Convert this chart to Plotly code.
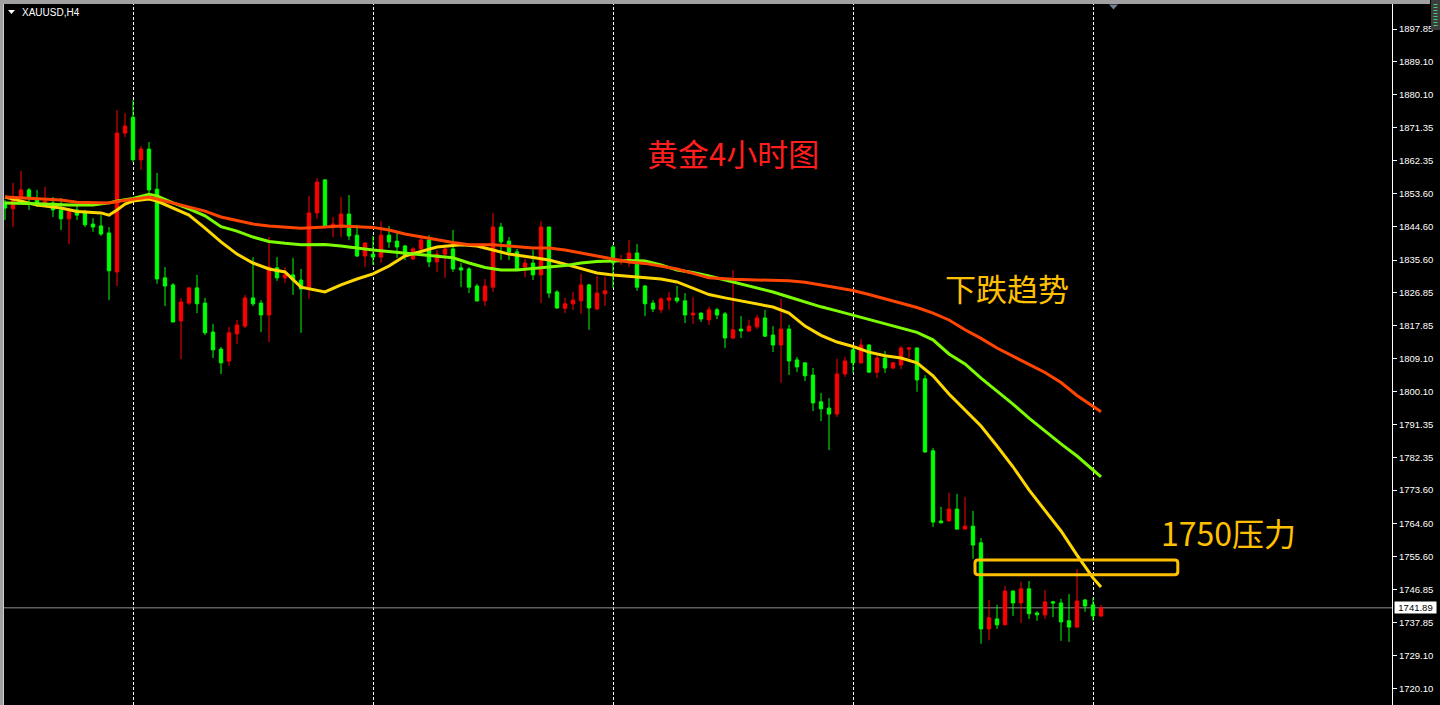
import plotly.graph_objects as go

# ---------------- data ----------------
idx = list(range(138))
opens = [1851.2,1849.4,1852.3,1854.5,1851.8,1851.0,1851.0,1849.1,1846.7,1849.1,
         1848.3,1845.3,1844.8,1842.9,1832.4,1869.8,1874.1,1862.6,1865.5,1854.7,
         1830.8,1828.9,1819.2,1824.0,1828.1,1824.0,1816.2,1811.6,1808.4,1815.7,
         1817.8,1825.4,1824.0,1820.8,1833.5,1830.8,1831.6,1830.2,1828.1,1848.3,
         1857.2,1844.5,1844.5,1848.0,1842.3,1836.7,1837.2,1836.4,1842.3,1840.7,
         1839.4,1835.9,1838.6,1841.0,1835.1,1837.2,1838.6,1833.5,1833.2,1828.6,
         1824.6,1828.3,1844.5,1840.7,1837.8,1833.7,1834.8,1831.6,1844.5,1827.0,
         1822.6,1823.8,1824.6,1828.9,1822.4,1826.5,1839.1,1835.1,1835.6,1837.5,
         1828.6,1824.0,1822.2,1824.8,1825.4,1824.6,1820.8,1821.3,1819.5,1822.2,
         1821.1,1814.6,1817.0,1816.5,1817.6,1820.0,1815.4,1812.7,1817.0,1808.7,
         1807.9,1804.6,1797.4,1795.7,1794.1,1804.9,1811.4,1807.9,1812.7,1805.4,
         1809.2,1806.5,1807.3,1811.6,1811.9,1803.6,1784.2,1765.3,1765.3,1768.5,
         1763.1,1763.9,1759.4,1736.2,1738.9,1737.3,1746.4,1743.2,1747.0,1740.5,
         1740.0,1743.5,1743.2,1738.4,1736.7,1744.0,1742.7,1739.7]
highs = [1851.8,1856.4,1859.6,1855.0,1854.5,1855.3,1852.6,1852.3,1849.6,1850.4,
         1849.1,1846.9,1847.7,1844.5,1876.0,1875.2,1878.7,1866.3,1867.4,1859.1,
         1833.7,1829.4,1825.4,1828.3,1831.6,1825.4,1818.4,1812.2,1817.6,1819.5,
         1826.2,1836.4,1824.8,1841.8,1836.4,1833.7,1836.2,1833.2,1852.9,1857.7,
         1857.4,1847.2,1852.6,1853.1,1845.1,1840.4,1842.1,1846.1,1844.8,1842.9,
         1839.7,1839.1,1842.3,1842.3,1838.3,1839.7,1843.7,1834.8,1833.7,1829.2,
         1830.5,1848.3,1845.6,1841.8,1838.6,1835.9,1838.3,1846.1,1844.6,1827.5,
         1825.4,1827.0,1831.9,1829.2,1831.3,1831.0,1839.7,1837.0,1841.0,1839.9,
         1828.9,1824.8,1825.6,1827.0,1828.6,1826.7,1825.6,1821.5,1823.0,1822.7,
         1821.6,1832.9,1820.5,1819.5,1820.8,1822.2,1817.8,1825.1,1818.1,1809.5,
         1808.0,1806.5,1799.8,1798.4,1809.0,1809.5,1812.7,1814.3,1813.0,1810.0,
         1811.1,1808.1,1812.4,1812.2,1812.0,1804.6,1785.0,1769.1,1772.9,1772.6,
         1771.8,1768.0,1760.7,1744.0,1742.7,1747.8,1746.7,1748.9,1749.1,1741.0,
         1746.7,1743.8,1744.3,1745.6,1752.4,1744.3,1744.6,1742.7]
lows = [1846.4,1844.5,1851.8,1849.1,1849.9,1850.9,1847.2,1843.7,1839.9,1846.4,
        1844.5,1843.2,1842.1,1824.8,1828.6,1868.7,1862.0,1859.9,1853.1,1829.2,
        1823.2,1818.9,1808.9,1823.5,1821.3,1815.4,1809.2,1804.9,1807.1,1813.0,
        1817.3,1823.2,1816.2,1813.5,1830.0,1829.4,1826.2,1816.0,1825.1,1846.7,
        1844.3,1841.8,1841.8,1841.0,1836.4,1833.7,1834.3,1834.8,1838.9,1836.2,
        1835.6,1835.6,1837.8,1833.7,1832.4,1830.8,1832.4,1828.3,1826.7,1824.3,
        1823.2,1827.0,1835.6,1835.6,1832.9,1831.0,1830.2,1824.0,1825.4,1822.4,
        1821.3,1822.2,1821.1,1816.8,1822.2,1823.2,1828.1,1834.3,1833.7,1827.3,
        1820.5,1821.6,1821.3,1822.2,1824.0,1818.6,1818.4,1818.9,1818.1,1819.7,
        1811.9,1814.3,1814.6,1816.2,1817.0,1814.9,1810.8,1802.5,1804.6,1805.4,
        1803.0,1794.9,1792.2,1784.4,1793.3,1804.1,1805.2,1807.6,1805.2,1803.8,
        1805.2,1806.2,1806.2,1809.2,1800.1,1783.6,1763.7,1764.6,1765.3,1762.9,
        1763.1,1755.1,1732.2,1733.2,1736.2,1737.3,1739.7,1737.8,1738.9,1738.4,
        1738.9,1739.4,1733.0,1732.7,1736.5,1740.8,1738.4,1739.4]
closes = [1849.6,1851.8,1854.5,1852.3,1851.0,1851.5,1849.1,1846.7,1848.6,1847.7,
          1845.1,1844.5,1842.6,1832.7,1869.8,1871.7,1862.6,1865.5,1854.5,1830.5,
          1828.6,1818.9,1824.3,1828.1,1823.8,1816.0,1811.4,1807.9,1816.0,1818.1,
          1825.4,1823.8,1820.8,1833.7,1830.8,1831.6,1830.2,1827.8,1848.3,1856.6,
          1844.5,1845.3,1848.0,1842.1,1836.7,1840.2,1836.4,1842.3,1840.5,1839.1,
          1837.0,1838.6,1841.0,1835.1,1837.2,1838.6,1833.2,1832.9,1828.3,1824.6,
          1828.6,1844.5,1840.5,1837.8,1833.2,1834.8,1831.6,1844.5,1826.7,1822.7,
          1823.8,1824.8,1828.9,1822.7,1826.7,1827.3,1834.8,1835.6,1837.5,1828.3,
          1823.8,1822.4,1825.1,1825.4,1824.6,1820.8,1821.3,1819.7,1822.2,1820.8,
          1814.6,1816.8,1816.5,1817.8,1820.0,1815.1,1812.7,1817.0,1808.4,1806.8,
          1804.4,1797.1,1795.5,1794.1,1804.9,1808.4,1807.9,1812.7,1805.4,1809.2,
          1806.5,1807.9,1811.9,1811.9,1803.3,1783.9,1765.0,1764.8,1768.5,1763.1,
          1763.9,1758.8,1736.2,1739.2,1737.3,1746.4,1743.2,1747.0,1740.3,1740.0,
          1743.5,1743.2,1738.1,1736.7,1743.7,1742.4,1739.7,1741.89]

# moving averages (fast = gold, medium = lawn green, slow = orange red)
ma_fast_idx = [0,2,4,7,9,12,13,14,15,16,18,19,21,23,25,27,29,31,33,35,37,39,40,42,44,46,48,
               50,52,54,57,59,61,63,66,68,70,72,74,76,78,80,82,84,86,88,90,92,94,96,98,
               100,102,104,106,108,110,112,114,116,118,120,122,124,126,128,130,132,134,136,137]
ma_fast = [1852.6,1851.6,1850.4,1849.6,1848.7,1848.3,1847.7,1849.1,1850.7,1851.5,1852.05,
           1851.5,1849.6,1847.7,1844.2,1840.5,1837.2,1834.8,1833.2,1832.4,1828.3,1827.3,
           1827.0,1828.9,1830.5,1831.85,1834.0,1836.7,1837.8,1839.1,1839.7,1839.4,1838.3,
           1837.2,1836.3,1835.6,1834.5,1833.2,1832.1,1831.6,1831.3,1830.9,1830.5,1829.7,
           1828.1,1826.3,1825.4,1824.6,1823.8,1822.95,1821.3,1817.8,1815.3,1813.5,1812.3,
           1810.8,1809.8,1809.2,1807.9,1804.4,1799.5,1795.2,1790.9,1785.5,1779.9,1773.65,
           1768.0,1762.6,1756.1,1749.95,1747.5]
ma_mid_idx = [0,4,8,11,13,14,16,18,19,21,23,25,27,29,31,33,35,37,40,42,46,50,54,56,58,60,
              62,64,66,68,70,72,74,76,78,80,82,84,86,88,90,92,94,96,98,100,102,104,106,108,
              110,112,114,116,118,120,122,124,126,128,130,132,134,136,137]
ma_mid = [1850.97,1850.8,1850.4,1850.4,1851.0,1851.5,1852.2,1853.3,1852.9,1851.0,1849.4,
          1847.5,1844.6,1843.4,1841.8,1840.6,1840.1,1839.7,1839.8,1839.4,1838.3,1837.4,
          1836.7,1836.2,1834.8,1833.6,1832.9,1832.9,1833.3,1833.7,1834.1,1834.8,1835.2,
          1835.35,1835.5,1835.35,1834.3,1832.9,1832.25,1831.3,1830.2,1829.3,1828.2,1827.0,
          1825.65,1824.3,1823.0,1821.9,1820.7,1819.6,1818.5,1817.3,1816.1,1814.1,1810.3,
          1807.6,1803.8,1800.3,1796.8,1793.0,1789.5,1786.05,1782.8,1779.0,1777.15]
ma_slow_idx = [0,4,7,9,13,14,16,18,19,21,23,25,27,29,31,33,35,37,40,42,46,48,50,52,54,56,
               58,61,63,66,68,70,72,74,76,78,80,82,84,86,88,91,95,98,100,102,104,106,108,
               110,112,114,116,118,120,122,124,126,128,130,132,134,136,137]
ma_slow = [1852.6,1852.05,1851.8,1851.2,1851.0,1851.4,1852.05,1852.6,1852.05,1851.0,
           1849.9,1848.8,1847.2,1846.3,1845.3,1844.8,1844.4,1844.2,1844.5,1844.8,1844.4,
           1843.7,1842.6,1841.8,1841.0,1840.3,1839.7,1839.7,1839.4,1838.85,1838.85,1838.3,
           1837.5,1836.7,1835.9,1835.1,1834.7,1834.0,1833.2,1832.0,1830.8,1830.4,1830.2,
           1830.0,1829.6,1828.9,1828.1,1827.4,1826.3,1825.1,1823.8,1822.8,1821.3,1819.45,
           1816.8,1814.5,1811.9,1809.6,1807.5,1805.3,1802.6,1799.1,1796.3,1794.7]

tick_text = ["1897.85","1889.10","1880.10","1871.35","1862.35","1853.60","1844.60",
             "1835.60","1826.85","1817.85","1809.10","1800.10","1791.35","1782.35",
             "1773.60","1764.60","1755.60","1746.85","1737.85","1729.10","1720.10"]
tick_vals = [float(t) for t in tick_text]
last_price = 1741.89
separator_idx = [16, 46, 76, 106, 136]
zone_x = [121.25, 146.6]
zone_y = [1750.8, 1754.8]
symbol_label = "XAUUSD,H4"
title_text = "黄金4小时图"
trend_text = "下跌趋势"
zone_text = "1750压力"

# ---------------- layout helpers ----------------
W, H = 1440, 705
L, R, T, B = 4, 48, 4, 0
PW, PH = W - L - R, H - T - B
X_RANGE = [-0.125, 173.375]
HALF_PX = (X_RANGE[1] - X_RANGE[0]) / PW / 2  # half a pixel in x units, for crisp 1px lines


def px(x):
    return (x - L) / PW


def py(y):
    return 1 - (y - T) / PH


fig = go.Figure()
fig.add_trace(go.Candlestick(
    x=idx, open=opens, high=highs, low=lows, close=closes,
    increasing=dict(line=dict(color="#ff0000", width=1), fillcolor="#ff0000"),
    decreasing=dict(line=dict(color="#00ff00", width=1), fillcolor="#00ff00"),
    whiskerwidth=0, hoverinfo="skip", showlegend=False))

for xs, ys, col in [(ma_fast_idx, ma_fast, "#ffd700"),
                    (ma_mid_idx, ma_mid, "#7cfc00"),
                    (ma_slow_idx, ma_slow, "#ff4500")]:
    fig.add_trace(go.Scatter(x=xs, y=ys, mode="lines",
                             line=dict(color=col, width=3),
                             hoverinfo="skip", showlegend=False))

shapes = []
for s in separator_idx:
    shapes.append(dict(type="line", xref="x", yref="paper", x0=s + HALF_PX, x1=s + HALF_PX,
                       y0=0, y1=1,
                       line=dict(color="#ffffff", width=1, dash="3px,2px"), layer="below"))
shapes.append(dict(type="line", xref="paper", yref="y", x0=0, x1=1,
                   y0=last_price, y1=last_price,
                   line=dict(color="#8c8c8c", width=1), layer="below"))
# rounded zone rectangle
x0, x1 = zone_x
y0, y1 = zone_y
rx, ry = 0.4, 0.8
path = (f"M {x0+rx},{y1} L {x1-rx},{y1} Q {x1},{y1} {x1},{y1-ry} "
        f"L {x1},{y0+ry} Q {x1},{y0} {x1-rx},{y0} L {x0+rx},{y0} "
        f"Q {x0},{y0} {x0},{y0+ry} L {x0},{y1-ry} Q {x0},{y1} {x0+rx},{y1} Z")
shapes.append(dict(type="path", xref="x", yref="y", path=path,
                   line=dict(color="#ffc000", width=3), layer="above"))
# window chrome
shapes.append(dict(type="rect", xref="paper", yref="paper", x0=px(0), x1=px(1430),
                   y0=py(4), y1=py(0), fillcolor="#a0a0a0", line=dict(width=0)))
shapes.append(dict(type="rect", xref="paper", yref="paper", x0=px(0), x1=px(3.5),
                   y0=py(705), y1=py(0), fillcolor="#a0a0a0", line=dict(width=0)))
shapes.append(dict(type="rect", xref="paper", yref="paper", x0=px(1431), x1=px(1440),
                   y0=py(30), y1=py(0), fillcolor="#3c3c3c", line=dict(width=0)))
shapes.append(dict(type="line", xref="paper", yref="paper", x0=px(1435.5), x1=px(1435.5),
                   y0=py(26), y1=py(2),
                   line=dict(color="#46c878", width=4, dash="1px,2px")))
# small triangles
shapes.append(dict(type="path", xref="paper", yref="paper",
                   path=f"M {px(8)},{py(10)} L {px(15)},{py(10)} L {px(11.5)},{py(14)} Z",
                   fillcolor="#ffffff", line=dict(width=0)))
shapes.append(dict(type="path", xref="paper", yref="paper",
                   path=f"M {px(1109)},{py(4.5)} L {px(1118)},{py(4.5)} L {px(1113.5)},{py(9.5)} Z",
                   fillcolor="#708090", line=dict(width=0)))

annotations = [
    dict(text=symbol_label, xref="paper", yref="paper", x=px(20), y=py(12.5),
         xanchor="left", yanchor="middle", showarrow=False,
         font=dict(family="Liberation Sans", size=10, color="#ffffff")),
    dict(text=title_text, xref="paper", yref="paper", x=px(733), y=py(153),
         xanchor="center", yanchor="middle", showarrow=False,
         font=dict(family="Noto Sans CJK SC", size=31, color="#ff1e1e")),
    dict(text=trend_text, xref="paper", yref="paper", x=px(1006.5), y=py(288),
         xanchor="center", yanchor="middle", showarrow=False,
         font=dict(family="Noto Sans CJK SC", size=31, color="#ffc000")),
    dict(text=zone_text, xref="paper", yref="paper", x=px(1228.5), y=py(532),
         xanchor="center", yanchor="middle", showarrow=False,
         font=dict(family="Noto Sans CJK SC", size=32, color="#ffc000")),
    dict(text=f"{last_price:.2f}", xref="paper", yref="y", x=px(1394), y=last_price,
         xanchor="left", yanchor="middle", showarrow=False, bgcolor="#ffffff",
         width=41, height=11, borderpad=0,
         font=dict(family="Liberation Sans", size=9.5, color="#000000")),
]

fig.update_layout(
    width=W, height=H, margin=dict(l=L, r=R, t=T, b=B, pad=0),
    paper_bgcolor="#000000", plot_bgcolor="#000000",
    showlegend=False, boxgap=0.4, hovermode=False,
    shapes=shapes, annotations=annotations,
    xaxis=dict(range=X_RANGE, showgrid=False, zeroline=False,
               showticklabels=False, ticks="", showline=True, linecolor="#ffffff",
               linewidth=1, mirror=True, rangeslider=dict(visible=False), fixedrange=True),
    yaxis=dict(range=[1715.71, 1904.59], side="right", showgrid=False, zeroline=False,
               tickvals=tick_vals, ticktext=tick_text, ticks="outside", ticklen=4,
               tickcolor="#ffffff", tickwidth=1, showline=True, linecolor="#ffffff",
               linewidth=1, mirror=True, fixedrange=True,
               tickfont=dict(family="Liberation Sans", size=9.5, color="#ffffff")),
)

fig.write_html("out.html", config={"displayModeBar": False},
               post_script="document.body.style.margin='0';document.body.style.background='#000';")
